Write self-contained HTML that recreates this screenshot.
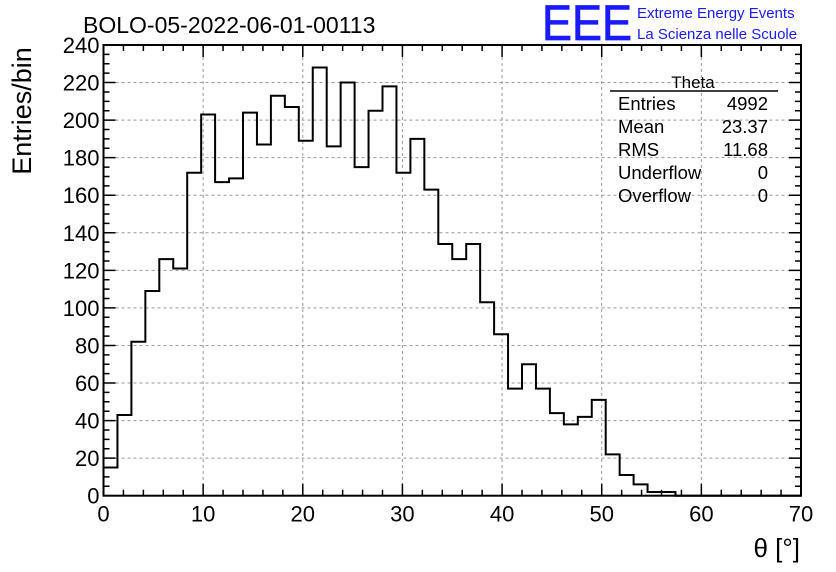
<!DOCTYPE html>
<html><head><meta charset="utf-8"><style>
body{margin:0;background:#fff}
svg{display:block;font-family:"Liberation Sans",sans-serif}
</style></head><body>
<svg id="chart" width="836" height="572" viewBox="0 0 836 572">
<rect width="836" height="572" fill="#fff"/>
<text x="83" y="33" font-size="23">BOLO-05-2022-06-01-00113</text>
<text x="542" y="40" font-size="50" fill="#1a1aff" stroke="#1a1aff" stroke-width="0.8" textLength="90" lengthAdjust="spacingAndGlyphs">EEE</text>
<text x="637" y="18" font-size="15" fill="#1a1aff">Extreme Energy Events</text>
<text x="637" y="39" font-size="15" fill="#1a1aff">La Scienza nelle Scuole</text>
<g id="grid"></g>
<g id="ticks"></g>
<g id="labels" font-size="22"></g>
<path id="hist" fill="none" stroke="#000" stroke-width="2"/>
<rect x="103.5" y="45" width="697.5" height="450.7" fill="none" stroke="#000" stroke-width="2"/>
<text transform="translate(31,111) rotate(-90)" text-anchor="middle" font-size="27">Entries/bin</text>
<text x="800" y="557" text-anchor="end" font-size="26">θ [°]</text>
<g font-size="18.5">
<text x="693" y="88" text-anchor="middle" font-size="17">Theta</text>
<line x1="610" y1="91" x2="778" y2="91" stroke="#000" stroke-width="1.5"/>
<text x="618" y="110">Entries</text><text x="768" y="110" text-anchor="end">4992</text>
<text x="618" y="133">Mean</text><text x="768" y="133" text-anchor="end">23.37</text>
<text x="618" y="156">RMS</text><text x="768" y="156" text-anchor="end">11.68</text>
<text x="618" y="179">Underflow</text><text x="768" y="179" text-anchor="end">0</text>
<text x="618" y="202">Overflow</text><text x="768" y="202" text-anchor="end">0</text>
</g>
</svg>
<script>
const binCounts = [15,43,82,109,126,121,172,203,167,169,204,187,213,207,189,228,186,220,175,205,218,172,190,163,134,126,134,103,86,57,70,57,44,38,42,51,22,11,6,2,2,0,0,0,0,0,0,0,0,0];
const xTickLabels = ["0","10","20","30","40","50","60","70"];
const yTickLabels = ["0","20","40","60","80","100","120","140","160","180","200","220","240"];
const xMin=0, xMax=70, binWidth=1.4, yMax=240;
const L=103.5, R=801, B=495.7, T=45;
const sx=v=>L+(v-xMin)/(xMax-xMin)*(R-L);
const sy=v=>B-v/yMax*(B-T);
const NS="http://www.w3.org/2000/svg";
function mk(tag,attrs,parent){const e=document.createElementNS(NS,tag);for(const k in attrs)e.setAttribute(k,attrs[k]);parent.appendChild(e);return e;}
const grid=document.getElementById('grid'),ticks=document.getElementById('ticks'),labels=document.getElementById('labels');
xTickLabels.forEach((t,i)=>{const v=+t,x=sx(v);
 if(i>0&&i<xTickLabels.length-1){const g=mk('line',{x1:x,x2:x,y1:T,y2:B,stroke:'#999','stroke-dasharray':'3,3','stroke-width':1},grid);
 
 }
 const tx=mk('text',{x:x,y:B+26,'text-anchor':'middle'},labels);tx.textContent=t;
 
 
});
yTickLabels.forEach((t,i)=>{const v=+t,y=sy(v);
 if(i>0&&i<yTickLabels.length-1){const g=mk('line',{x1:L,x2:R,y1:y,y2:y,stroke:'#999','stroke-dasharray':'3,3','stroke-width':1},grid);
 
 }
 const tx=mk('text',{x:L-4,y:y+8,'text-anchor':'end'},labels);tx.textContent=t;
 
 
});
let d='';
for(let v=0;v<=70;v+=2){const x=sx(v),len=(v%10===0)?12:6;d+=`M${x},${B}V${B-len}M${x},${T}V${T+len}`;}
for(let v=0;v<=240;v+=5){const y=sy(v),len=(v%20===0)?12:6;d+=`M${L},${y}H${L+len}M${R},${y}H${R-len}`;}
const tp=mk('path',{d:d,stroke:'#000','stroke-width':1.5,fill:'none'},ticks);


let h=`M${sx(0)},${sy(0)}`;
binCounts.forEach((c,i)=>{const x1=sx((i+1)*binWidth);h+=`V${sy(c)}H${x1}`;});
document.getElementById('hist').setAttribute('d',h);
</script>
</body></html>
